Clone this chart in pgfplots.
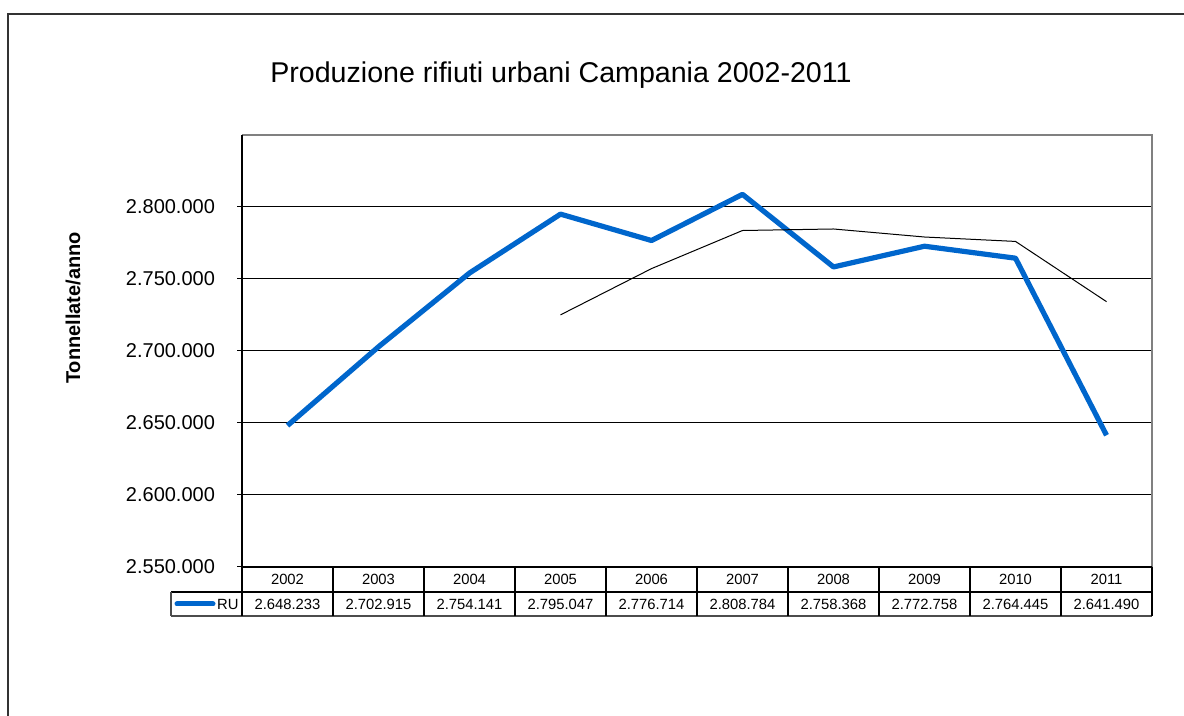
\documentclass[border=0pt]{standalone}
\usepackage{fontspec}
\setmainfont{Liberation Sans}
\usepackage{pgfplots}
\pgfplotsset{compat=1.18}
\definecolor{rublue}{RGB}{0,102,204}
\begin{document}
\begin{tikzpicture}
\useasboundingbox (0,0) rectangle (592pt,358pt);
\begin{scope}
\clip (0,0) rectangle (592pt,358pt);
\draw[line width=0.9pt, black!80] (4pt,-10pt) -- (4pt,351pt) -- (600pt,351pt);
\end{scope}
\begin{axis}[at={(121pt,74.5pt)}, anchor=south west, scale only axis,
  width=455pt, height=216pt,
  xmin=-0.5, xmax=9.5, ymin=2550000, ymax=2850000,
  xtick=\empty,
  ytick={2550000,2600000,2650000,2700000,2750000,2800000},
  ytick pos=left,
  ymajorgrids, grid style={black, line width=0.5pt},
  axis line style={draw=none},
  tick align=outside, major tick length=2.5pt,
  y tick style={black, line width=0.5pt},
  yticklabel style={font=\fontsize{10}{12}\selectfont, xshift=-7.5pt},
  /pgf/number format/fixed,
  /pgf/number format/1000 sep={.},
  /pgf/number format/assume math mode=true,
  scaled y ticks=false,
  clip=false]
\addplot[rublue, line width=2.6pt, line join=round] coordinates {
  (0,2648233) (1,2702915) (2,2754141) (3,2795047) (4,2776714)
  (5,2808784) (6,2758368) (7,2772758) (8,2764445) (9,2641490)};
\addplot[black, line width=0.5pt] coordinates {
  (3,2725084) (4,2757204) (5,2783672) (6,2784728) (7,2779156)
  (8,2776089) (9,2734265)};
\draw[black!50, line width=0.6pt] (rel axis cs:0,1) -- (rel axis cs:1,1) -- (rel axis cs:1,0);
\draw[black, line width=0.9pt] (rel axis cs:0,0) -- (rel axis cs:0,1);
\draw[black, line width=0.9pt] (rel axis cs:0,0) -- (rel axis cs:1,0);
\end{axis}
\begin{scope}[shift={(0pt,358pt)}, x=0.5pt, y=-0.5pt]
  \node[font=\fontsize{14.3}{17}\selectfont] at (561,75) {Produzione rifiuti urbani Campania 2002-2011};
  \node[rotate=90, font=\bfseries\fontsize{10}{12}\selectfont] at (73,308) {Tonnellate/anno};
  % data table
  \draw[black, line width=0.6pt] (171,592) -- (1152,592);
  \draw[black!70, line width=0.6pt] (171,616) -- (1152,616);
  \draw[black!70, line width=0.6pt] (171,592) -- (171,616);
  \foreach \k in {0,...,10} {
    \draw[black, line width=0.6pt] (242+91*\k,567) -- (242+91*\k,616);
  }
  \draw[rublue, line width=2.5pt, line cap=round] (177,604) -- (213,604);
  \node[anchor=east, inner sep=1pt, font=\fontsize{7.4}{9}\selectfont] at (241,604) {RU};
  \foreach \yr/\val [count=\i from 0] in {2002/2.648.233, 2003/2.702.915, 2004/2.754.141, 2005/2.795.047, 2006/2.776.714, 2007/2.808.784, 2008/2.758.368, 2009/2.772.758, 2010/2.764.445, 2011/2.641.490} {
    \node[font=\fontsize{7.4}{9}\selectfont] at (287.5+91*\i,579.5) {\yr};
    \node[font=\fontsize{7.4}{9}\selectfont] at (287.5+91*\i,604) {\val};
  }
\end{scope}
\end{tikzpicture}
\end{document}
